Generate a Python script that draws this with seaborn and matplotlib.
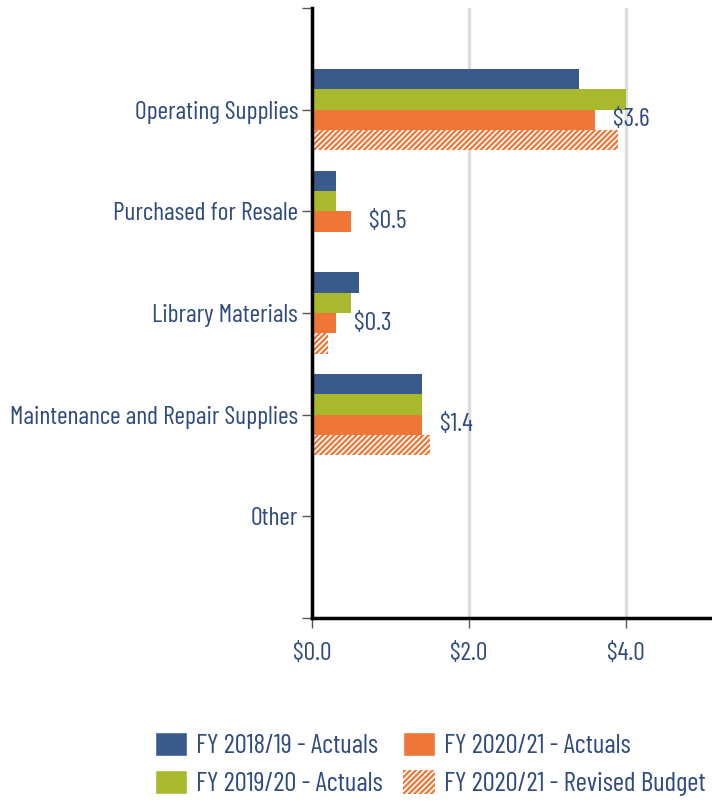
import matplotlib
matplotlib.use("Agg")
import matplotlib.pyplot as plt
import seaborn as sns
import pandas as pd
from matplotlib.patches import Patch
from matplotlib import font_manager

categories = ["Operating Supplies", "Purchased for Resale", "Library Materials",
              "Maintenance and Repair Supplies", "Other"]
series = ["FY 2018/19 - Actuals", "FY 2019/20 - Actuals",
          "FY 2020/21 - Actuals", "FY 2020/21 - Revised Budget"]
fy1819 = [3.4, 0.3, 0.6, 1.4, 0.0]
fy1920 = [4.0, 0.3, 0.5, 1.4, 0.0]
fy2021 = [3.6, 0.5, 0.3, 1.4, 0.0]
fy2021_budget = [3.9, 0.0, 0.2, 1.5, 0.0]
bar_labels = ["$3.6", "$0.5", "$0.3", "$1.4", ""]
x_ticks = [0, 2, 4]
x_ticklabels = ["$0.0", "$2.0", "$4.0"]

colors = ["#3A5A8C", "#A9B92E", "#EE7738", "#EE7738"]
text_color = "#2F4A7E"

rows = []
for s, vals in zip(series, [fy1819, fy1920, fy2021, fy2021_budget]):
    for c, v in zip(categories, vals):
        rows.append({"category": c, "series": s, "value": v})
df = pd.DataFrame(rows)

sns.set_style("white")
names = {f.name for f in font_manager.fontManager.ttflist}
fam = "DejaVu Sans"
for cand in ["Barlow Condensed", "Roboto Condensed", "Archivo Narrow"]:
    if cand in names:
        fam = cand
        break
plt.rcParams["font.family"] = [fam, "DejaVu Sans"]
plt.rcParams["hatch.linewidth"] = 1.2

FS = 18.5
LFS = 19.5
HATCH = "//////"

fig = plt.figure(figsize=(7.12, 8.02), dpi=100)
ax = fig.add_axes([312/712, 1 - 618/802, 1 - 312/712, 610/802])

sns.barplot(data=df, x="value", y="category", hue="series", hue_order=series,
            order=categories, palette=colors, width=0.8, orient="h",
            saturation=1, ax=ax, legend=False, linewidth=0)

for p in ax.containers[3]:
    p.set_facecolor("#EE7738")
    p.set_edgecolor("white")
    p.set_hatch(HATCH)
    p.set_linewidth(0)

for p, lab in zip(ax.containers[2], bar_labels):
    if lab:
        y = p.get_y() + p.get_height() / 2
        ax.annotate(lab, xy=(p.get_width(), y), xytext=(13, 0),
                    textcoords="offset points", va="center", ha="left",
                    fontsize=FS, color=text_color)

ax.set_xlim(0, 400/78.5)
ax.set_ylim(len(categories), -1)
ax.set_yticks(range(-1, len(categories) + 1))
ax.set_yticklabels([""] + categories + [""], fontsize=FS, color=text_color)
ax.set_xticks(x_ticks)
ax.set_xticklabels(x_ticklabels, fontsize=FS, color=text_color)
ax.set_xlabel("")
ax.set_ylabel("")
ax.tick_params(axis="y", length=7, width=1, color="#555555", pad=3, left=True)
ax.tick_params(axis="x", length=7, width=1, color="#555555", pad=10, bottom=True)
ax.xaxis.grid(True, color="#DDDDDD", linewidth=2.5)
ax.set_axisbelow(True)
for s in ["top", "right"]:
    ax.spines[s].set_visible(False)
for s in ["left", "bottom"]:
    ax.spines[s].set_color("black")
    ax.spines[s].set_linewidth(2.5)

handles = [Patch(facecolor=colors[0]), Patch(facecolor=colors[1]),
           Patch(facecolor=colors[2]),
           Patch(facecolor="#EE7738", edgecolor="white", hatch=HATCH, linewidth=0)]
leg = fig.legend(handles, series, ncol=2, loc="center", bbox_to_anchor=(430/712, 1 - 764/802),
                 frameon=False, fontsize=LFS, handlelength=1.18, handleheight=0.98,
                 handletextpad=0.33, columnspacing=0.75, labelspacing=0.42)
for t in leg.get_texts():
    t.set_color(text_color)

fig.savefig("out.png", dpi=100)
